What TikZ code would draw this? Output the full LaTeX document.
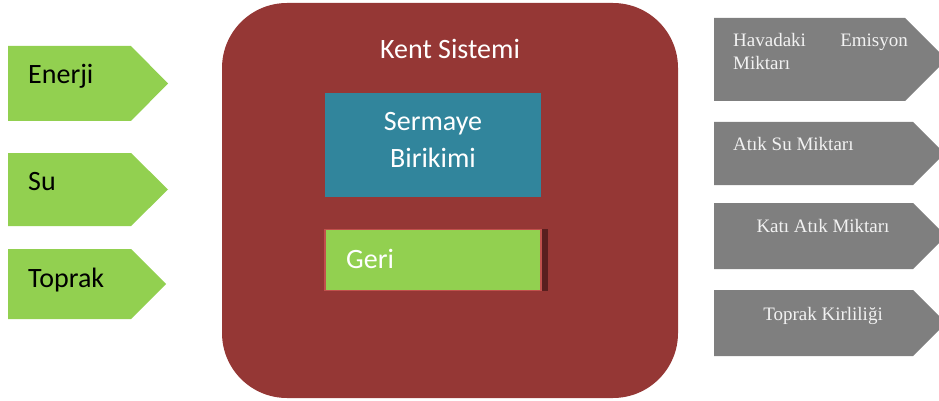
\documentclass[tikz,border=0pt]{standalone}
\usepackage{fontspec}
\setmainfont{Carlito}
\newfontfamily\grayfont{Liberation Serif}
\definecolor{kgreen}{HTML}{92D050}
\definecolor{kteal}{HTML}{31859C}
\definecolor{kgray}{HTML}{7F7F7F}
\definecolor{kred}{HTML}{953735}
\definecolor{kborder}{HTML}{C0504D}
\definecolor{kshadow}{HTML}{5A1F1F}
\definecolor{kwhite}{HTML}{F2F2F2}
\tikzset{
  inarrow/.style={fill=kgreen},
  outarrow/.style={fill=kgray},
  intext/.style={font=\fontsize{28}{30}\selectfont, text=black, inner sep=0pt, anchor=base west},
  outtext/.style={font=\grayfont\fontsize{19}{23}\selectfont, text=kwhite, inner sep=0pt},
  whitetext/.style={font=\fontsize{28}{37}\selectfont, text=white, inner sep=0pt, align=center},
}
\begin{document}
\begin{tikzpicture}[x=1pt,y=-1pt]
\useasboundingbox (0,0) rectangle (939,401);
\begin{scope}
\clip (0,0) rectangle (939,401);
% input arrows
\fill[inarrow] (8,46) -- (131,46) -- (168,83.5) -- (131,121) -- (8,121) -- cycle;
\fill[inarrow] (8,153) -- (131,153) -- (168,189.5) -- (131,226) -- (8,226) -- cycle;
\fill[inarrow] (8,249) -- (131,249) -- (166,284) -- (131,319) -- (8,319) -- cycle;
\node[intext] (enerji) at (28,84) {Enerji};
\node[intext] (su) at (28,190) {Su};
\node[intext] (toprak) at (28,287) {Toprak};
% city system
\fill[kred, rounded corners=65pt] (222,3) rectangle (678,398);
\node[whitetext, anchor=base] (kent) at (450,59) {Kent Sistemi};
\fill[kteal] (325,93) rectangle (541,197);
\node[whitetext] (sermaye) at (433,140) {Sermaye\\Birikimi};
\fill[kshadow] (540,229) rectangle (548,291);
\fill[kgreen, draw=kborder, line width=1.5pt] (325,229.5) rectangle (541,290.5);
\node[whitetext, anchor=base west] (geri) at (346,268) {Geri};
% output arrows
\fill[outarrow] (714,18) -- (905,18) -- (946.5,59.5) -- (905,101) -- (714,101) -- cycle;
\fill[outarrow] (714,122) -- (913,122) -- (944.5,153.5) -- (913,185) -- (714,185) -- cycle;
\fill[outarrow] (714,203) -- (913,203) -- (946,236) -- (913,269) -- (714,269) -- cycle;
\fill[outarrow] (714,290) -- (913,290) -- (946,323) -- (913,356) -- (714,356) -- cycle;
\node[outtext, anchor=base west] (hava1) at (733,47) {Havadaki};
\node[outtext, anchor=base east] (hava2) at (908,47) {Emisyon};
\node[outtext, anchor=base west] (hava3) at (733,70) {Miktarı};
\node[outtext, anchor=base west] (atiksu) at (733,150) {Atık Su Miktarı};
\node[outtext, anchor=base] (kati) at (823,232) {Katı Atık Miktarı};
\node[outtext, anchor=base] (kirlilik) at (823,320) {Toprak Kirliliği};
\end{scope}
\end{tikzpicture}
\end{document}
